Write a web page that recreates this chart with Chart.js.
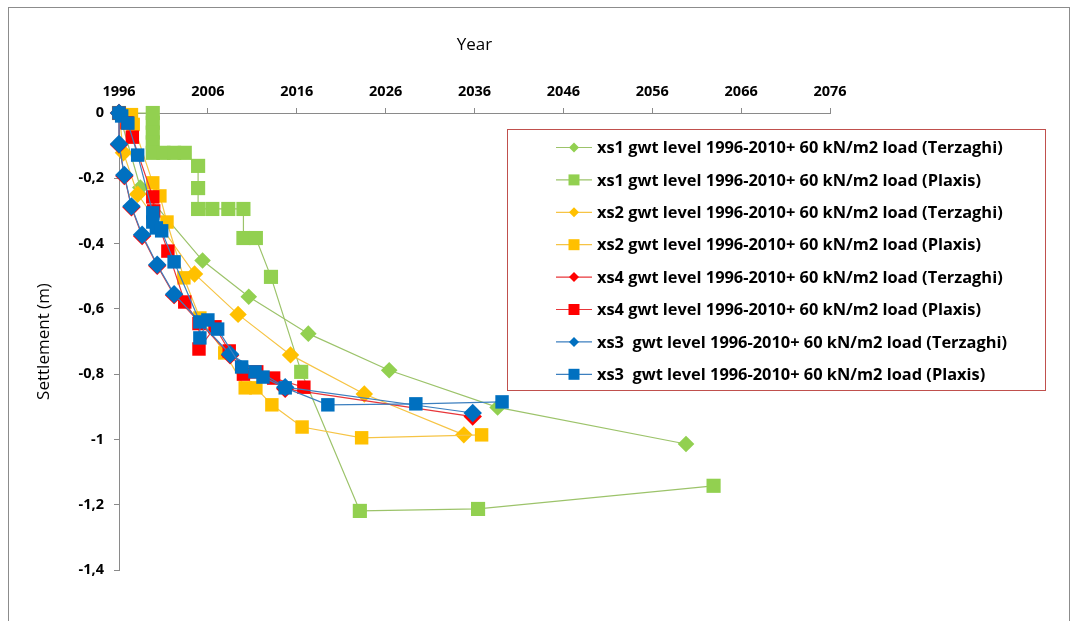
<!DOCTYPE html>
<html>
<head>
<meta charset="utf-8">
<script src="https://cdn.jsdelivr.net/npm/chart.js@4.4.1/dist/chart.umd.min.js"></script>
<style>
  html, body { margin: 0; padding: 0; background: #fff; }
  #wrap { position: relative; width: 1078px; height: 621px; overflow: hidden; }
  #frame { position: absolute; left: 8px; top: 7px; width: 1062px; height: 640px; border: 1px solid #8c8c8c; box-sizing: border-box; }
  canvas { position: absolute; left: 0; top: 0; }
</style>
</head>
<body>
<div id="wrap">
  <div id="frame"></div>
  <canvas id="c" width="1078" height="621"></canvas>
</div>
<script>
// ---- Data ----
const seriesNames = [
  "xs1 gwt level 1996-2010+ 60 kN/m2 load (Terzaghi)",
  "xs1 gwt level 1996-2010+ 60 kN/m2 load (Plaxis)",
  "xs2 gwt level 1996-2010+ 60 kN/m2 load (Terzaghi)",
  "xs2 gwt level 1996-2010+ 60 kN/m2 load (Plaxis)",
  "xs4 gwt level 1996-2010+ 60 kN/m2 load (Terzaghi)",
  "xs4 gwt level 1996-2010+ 60 kN/m2 load (Plaxis)",
  "xs3  gwt level 1996-2010+ 60 kN/m2 load (Terzaghi)",
  "xs3  gwt level 1996-2010+ 60 kN/m2 load (Plaxis)"
];

const xs1TerzYears  = [1996, 1998.4, 2005.4, 2010.6, 2017.3, 2026.4, 2038.6, 2059.8];
const xs1TerzSettle = [0, -0.228, -0.452, -0.563, -0.676, -0.788, -0.902, -1.014];

const xs1PlaxYears  = [1996, 1999.8, 1999.8, 1999.8, 1999.8, 1999.8, 2001.0, 2002.2, 2003.4, 2004.9, 2004.9, 2004.9, 2006.5, 2008.3, 2010.0, 2010.0, 2011.4, 2013.1, 2016.5, 2023.1, 2036.4, 2062.9];
const xs1PlaxSettle = [0, 0, -0.03, -0.06, -0.09, -0.122, -0.122, -0.122, -0.122, -0.162, -0.23, -0.294, -0.294, -0.294, -0.294, -0.383, -0.383, -0.502, -0.793, -1.219, -1.213, -1.142];

const xs2TerzYears  = [1996, 1996.5, 1998.1, 2004.5, 2009.4, 2015.3, 2023.6, 2034.8];
const xs2TerzSettle = [0, -0.122, -0.249, -0.493, -0.617, -0.741, -0.861, -0.986];

const xs2PlaxYears  = [1996, 1997.4, 1997.6, 1999.8, 2000.6, 2001.4, 2003.3, 2005.1, 2007.9, 2010.2, 2011.4, 2013.2, 2016.6, 2023.3, 2036.8];
const xs2PlaxSettle = [0, -0.005, -0.035, -0.214, -0.254, -0.334, -0.505, -0.628, -0.735, -0.842, -0.842, -0.894, -0.962, -0.995, -0.986];

const xs4TerzYears  = [1996, 1996.0, 1996.6, 1997.4, 1998.6, 2000.3, 2002.2, 2008.5, 2014.7, 2035.8];
const xs4TerzSettle = [0, -0.097, -0.193, -0.289, -0.377, -0.468, -0.558, -0.742, -0.845, -0.93];

const xs4PlaxYears  = [1996, 1996.9, 1997.5, 1999.8, 1999.9, 2001.5, 2003.4, 2005.0, 2005.0, 2006.8, 2008.4, 2010.0, 2011.5, 2013.4, 2016.8];
const xs4PlaxSettle = [0, -0.03, -0.074, -0.257, -0.30, -0.423, -0.579, -0.645, -0.723, -0.655, -0.729, -0.80, -0.793, -0.812, -0.84];

const xs3TerzYears  = [1996, 1996.0, 1996.6, 1997.4, 1998.6, 2000.3, 2002.2, 2008.5, 2014.7, 2035.8];
const xs3TerzSettle = [0, -0.095, -0.19, -0.286, -0.373, -0.465, -0.555, -0.739, -0.84, -0.919];

const xs3PlaxYears  = [1996, 1996.3, 1997.0, 1998.1, 1999.8, 1999.8, 2000.2, 2000.8, 2002.2, 2005.1, 2005.1, 2006.0, 2007.1, 2009.8, 2011.3, 2012.2, 2014.7, 2019.5, 2029.4, 2039.1];
const xs3PlaxSettle = [0, -0.009, -0.031, -0.129, -0.306, -0.334, -0.352, -0.361, -0.456, -0.64, -0.689, -0.634, -0.662, -0.778, -0.793, -0.809, -0.842, -0.894, -0.891, -0.885];

const xTickMin = 1996, xTickMax = 2076, xTickStep = 10;
const yTickMin = -1.4, yTickMax = 0, yTickStep = 0.2;

// ---- Styles ----
const colors = ["#92D050", "#92D050", "#FFC000", "#FFC000", "#FF0000", "#FF0000", "#0070C0", "#0070C0"];
const lineColors = ["#9CC36A", "#9CC36A", "#F6C445", "#F6C445", "#E8363A", "#E8363A", "#3C7FBF", "#3C7FBF"];
const styles = ["rectRot", "rect", "rectRot", "rect", "rectRot", "rect", "rectRot", "rect"];
const radii = [8.3, 10, 8.7, 9.5, 9.2, 9.5, 9.2, 9.5];

const yearsList = [xs1TerzYears, xs1PlaxYears, xs2TerzYears, xs2PlaxYears, xs4TerzYears, xs4PlaxYears, xs3TerzYears, xs3PlaxYears];
const settleList = [xs1TerzSettle, xs1PlaxSettle, xs2TerzSettle, xs2PlaxSettle, xs4TerzSettle, xs4PlaxSettle, xs3TerzSettle, xs3PlaxSettle];

const datasets = seriesNames.map((name, i) => ({
  label: name,
  data: yearsList[i].map((x, k) => ({ x: x, y: settleList[i][k] })),
  showLine: true,
  borderColor: lineColors[i],
  borderWidth: 1.2,
  backgroundColor: colors[i],
  pointBackgroundColor: colors[i],
  pointBorderColor: colors[i],
  pointBorderWidth: 0,
  pointStyle: styles[i],
  pointRadius: radii[i],
  pointHoverRadius: radii[i],
  clip: false,
  order: seriesNames.length - i
}));

const AXIS_COLOR = "#8a8a8a";
const FONT = '"Open Sans", "DejaVu Sans", sans-serif';

const legendPlugin = {
  id: 'boxLegend',
  afterDraw(chart) {
    const ctx = chart.ctx;
    const box = { l: 507.5, t: 129.5, r: 1045.5, b: 390.5 };
    ctx.save();
    ctx.fillStyle = '#fff';
    ctx.fillRect(box.l, box.t, box.r - box.l, box.b - box.t);
    ctx.strokeStyle = '#C0504D';
    ctx.lineWidth = 1;
    ctx.strokeRect(box.l, box.t, box.r - box.l, box.b - box.t);
    // fit font so first label is ~406px wide
    let size = 15;
    ctx.font = 'bold ' + size + 'px ' + FONT;
    const w = ctx.measureText(seriesNames[0]).width;
    size = size * 406 / w;
    ctx.font = 'bold ' + size.toFixed(2) + 'px ' + FONT;
    ctx.textBaseline = 'middle';
    ctx.textAlign = 'left';
    const y0 = 147.5, dy = 32.4;
    seriesNames.forEach((name, i) => {
      const y = y0 + i * dy;
      ctx.strokeStyle = lineColors[i];
      ctx.lineWidth = 1.2;
      ctx.beginPath(); ctx.moveTo(556, y); ctx.lineTo(592, y); ctx.stroke();
      ctx.fillStyle = colors[i];
      ctx.beginPath();
      if (styles[i] === 'rect') {
        ctx.rect(574 - 5.5, y - 5.5, 11, 11);
      } else {
        ctx.moveTo(574 - 5, y); ctx.lineTo(574, y - 5); ctx.lineTo(574 + 5, y); ctx.lineTo(574, y + 5); ctx.closePath();
      }
      ctx.fill();
      ctx.fillStyle = '#000';
      ctx.fillText(name, 597, y + 1);
    });
    ctx.restore();
  }
};

new Chart(document.getElementById('c'), {
  type: 'scatter',
  data: { datasets: datasets },
  options: {
    responsive: false,
    animation: false,
    events: [],
    layout: { padding: { left: 0, top: 0, right: 248, bottom: 51 } },
    plugins: { legend: { display: false }, tooltip: { enabled: false } },
    scales: {
      x: {
        type: 'linear',
        position: 'top',
        min: xTickMin, max: xTickMax,
        afterFit(scale) { scale.height = 113; },
        ticks: {
          stepSize: xTickStep,
          color: '#000',
          font: { family: FONT, size: 14.5, weight: 'bold' },
          padding: 7,
          maxRotation: 0,
          callback: (v) => String(v)
        },
        grid: { drawOnChartArea: false, drawTicks: true, tickLength: 5, color: AXIS_COLOR },
        border: { color: AXIS_COLOR, width: 1 },
        title: { display: true, text: 'Year', color: '#000', font: { family: FONT, size: 17 }, padding: { top: 35 } }
      },
      y: {
        type: 'linear',
        min: yTickMin, max: yTickMax,
        afterFit(scale) { scale.width = 119; },
        ticks: {
          stepSize: yTickStep,
          color: '#000',
          font: { family: FONT, size: 14.5, weight: 'bold' },
          padding: 10,
          callback: (v) => String(Math.round(v * 10) / 10).replace('.', ',')
        },
        grid: { drawOnChartArea: false, drawTicks: true, tickLength: 5, color: AXIS_COLOR },
        border: { color: AXIS_COLOR, width: 1 },
        title: { display: true, text: 'Settlement (m)', color: '#000', font: { family: FONT, size: 17 }, padding: { top: 34 } }
      }
    }
  },
  plugins: [legendPlugin]
});
</script>
</body>
</html>
